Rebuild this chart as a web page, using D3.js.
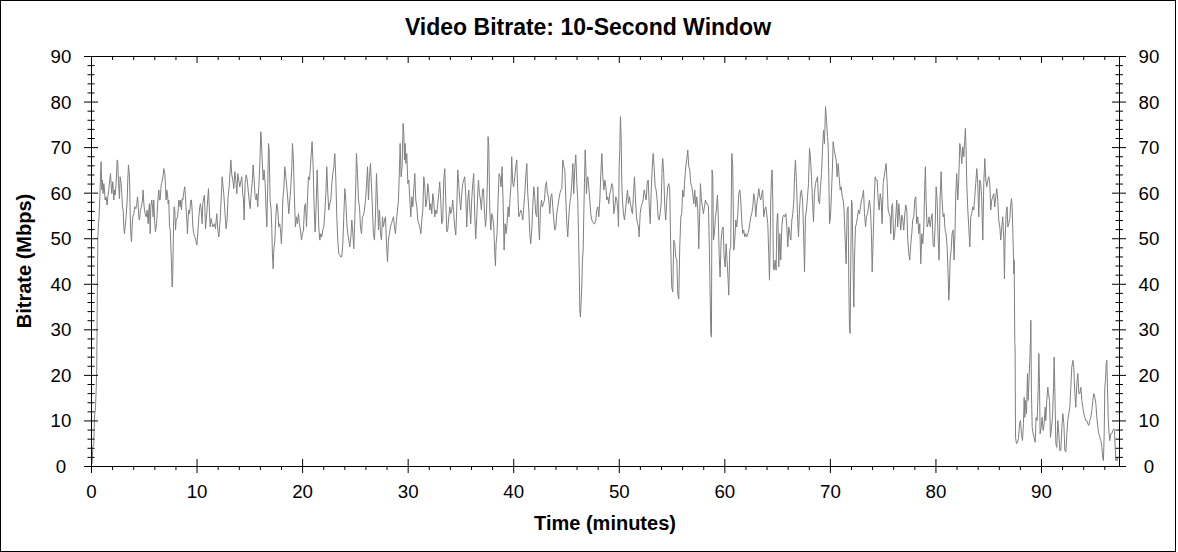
<!DOCTYPE html>
<html><head><meta charset="utf-8">
<script src="https://cdn.jsdelivr.net/npm/d3@7"></script>
<style>html,body{margin:0;padding:0;background:#fff;} svg{display:block;}</style>
</head><body>
<svg id="chart" width="1178" height="552"></svg>
<script>
const chartTitle = "Video Bitrate: 10-Second Window";
const xTitle = "Time (minutes)";
const yTitle = "Bitrate (Mbps)";
const xTickValues = [0,10,20,30,40,50,60,70,80,90];
const xTickLabels = ["0","10","20","30","40","50","60","70","80","90"];
const yTickValues = [0,10,20,30,40,50,60,70,80,90];
const yTickLabels = ["0","10","20","30","40","50","60","70","80","90"];
// [minutes, Mbps]
const samples = [
[0.06,0.6],[0.12,4.2],[0.22,5.0],[0.28,10.8],[0.38,13.0],[0.44,16.7],[0.50,21.8],[0.53,32.8],[0.60,50.0],[0.66,53.3],[0.72,54.8],[0.79,59.2],[0.85,63.6],[0.91,66.9],[0.98,60.7],[1.04,62.9],[1.10,59.9],[1.17,62.1],[1.23,60.7],[1.29,58.5],[1.39,59.2],[1.48,57.4],[1.55,59.2],[1.64,60.7],[1.73,62.9],[1.80,64.3],[1.86,62.1],[1.92,59.9],[2.02,62.5],[2.11,58.5],[2.18,60.7],[2.24,59.6],[2.33,62.1],[2.43,67.3],[2.49,66.9],[2.56,62.1],[2.65,58.8],[2.71,63.6],[2.81,62.1],[2.87,59.9],[2.93,57.0],[3.00,56.3],[3.06,52.6],[3.12,51.1],[3.19,52.6],[3.28,54.8],[3.38,58.5],[3.44,62.9],[3.50,66.2],[3.60,63.6],[3.66,56.3],[3.72,51.1],[3.79,49.3],[3.85,52.6],[3.91,54.8],[4.01,55.5],[4.10,57.0],[4.20,56.6],[4.29,57.7],[4.36,59.2],[4.42,57.7],[4.48,54.8],[4.54,54.1],[4.64,56.3],[4.73,57.0],[4.83,58.5],[4.89,60.7],[4.96,57.7],[5.02,56.3],[5.08,55.5],[5.18,54.8],[5.27,56.3],[5.37,53.3],[5.43,56.3],[5.49,57.7],[5.56,51.1],[5.62,57.0],[5.71,58.5],[5.78,57.0],[5.84,54.8],[5.90,58.5],[5.97,54.1],[6.06,51.5],[6.16,53.3],[6.22,55.5],[6.31,59.2],[6.38,60.7],[6.44,58.5],[6.50,58.5],[6.57,61.0],[6.63,62.1],[6.72,62.9],[6.79,64.0],[6.85,65.4],[6.95,64.3],[7.01,61.4],[7.07,58.5],[7.13,60.7],[7.20,59.9],[7.26,57.7],[7.32,58.5],[7.39,52.6],[7.45,52.2],[7.51,48.9],[7.58,44.5],[7.64,39.4],[7.70,42.3],[7.77,52.6],[7.83,57.0],[7.89,56.3],[7.96,51.9],[8.02,54.1],[8.08,54.4],[8.15,54.8],[8.21,56.3],[8.27,58.5],[8.33,58.1],[8.40,57.0],[8.46,58.5],[8.52,56.3],[8.59,58.8],[8.65,58.5],[8.71,59.6],[8.78,60.7],[8.84,61.4],[8.90,59.2],[8.97,56.3],[9.03,54.1],[9.09,51.1],[9.16,54.8],[9.22,56.3],[9.28,55.5],[9.35,57.0],[9.41,58.5],[9.47,58.5],[9.53,56.3],[9.60,52.6],[9.69,51.1],[9.79,50.4],[9.88,49.7],[9.98,48.6],[10.07,51.1],[10.17,54.8],[10.26,57.0],[10.32,57.7],[10.39,56.3],[10.48,53.3],
[10.54,57.7],[10.70,59.6],[10.80,52.2],[10.92,55.5],[11.08,61.0],[11.24,52.6],[11.33,54.4],[11.49,52.6],[11.65,53.3],[11.74,52.2],[11.87,55.5],[11.97,51.9],[12.06,50.4],[12.19,54.1],[12.28,58.5],[12.38,63.6],[12.44,62.1],[12.53,59.9],[12.63,56.3],[12.75,52.2],[12.85,54.1],[12.94,59.2],[13.04,61.4],[13.13,64.7],[13.20,67.3],[13.29,64.0],[13.39,62.9],[13.48,61.0],[13.58,64.7],[13.67,62.9],[13.77,59.9],[13.86,64.3],[13.95,62.9],[14.05,61.4],[14.14,62.5],[14.24,63.6],[14.33,59.9],[14.40,58.5],[14.46,54.1],[14.55,62.1],[14.65,64.0],[14.74,63.2],[14.84,60.7],[14.93,58.5],[15.03,56.6],[15.12,59.9],[15.22,62.1],[15.31,66.2],[15.41,62.9],[15.50,59.2],[15.60,58.5],[15.66,59.9],[15.75,57.0],[15.85,61.4],[15.94,65.8],[16.04,73.5],[16.10,71.6],[16.17,67.3],[16.26,62.9],[16.35,65.1],[16.45,62.1],[16.54,56.3],[16.61,52.6],[16.70,62.1],[16.77,70.9],[16.83,69.5],[16.92,58.5],[17.02,56.3],[17.08,52.2],[17.14,46.7],[17.21,43.4],[17.27,47.5],[17.37,49.7],[17.46,54.8],[17.55,57.7],[17.65,56.3],[17.74,52.6],[17.84,53.3],[17.93,51.1],[17.99,48.9],[18.06,52.6],[18.12,58.5],[18.22,61.0],[18.31,65.8],[18.41,63.6],[18.50,61.4],[18.60,58.5],[18.69,55.5],[18.79,58.5],[18.88,61.4],[18.98,65.8],[19.04,70.9],[19.13,67.3],[19.23,58.5],[19.32,52.6],[19.42,54.8],[19.51,53.3],[19.61,55.5],[19.70,53.3],[19.80,51.9],[19.89,49.7],[19.99,51.1],[20.08,51.9],[20.18,57.0],[20.27,57.7],[20.37,52.6],[20.46,58.5],[20.55,63.6],[20.65,62.9],[20.74,65.8],[20.84,69.5],[20.90,71.3],[21.00,65.8],[21.09,57.0],[21.19,51.5],[21.28,57.0],[21.38,65.1],
[21.44,60.7],[21.53,52.6],[21.63,49.7],[21.72,51.1],[21.82,50.4],[21.91,51.9],[22.01,52.6],[22.10,55.5],[22.20,59.9],[22.29,65.8],[22.39,59.9],[22.48,56.3],[22.58,57.7],[22.67,58.5],[22.77,62.1],[22.86,64.3],[22.96,65.8],[23.05,68.7],[23.15,62.9],[23.24,54.8],[23.33,49.7],[23.43,46.7],[23.52,46.4],[23.62,46.0],[23.71,46.0],[23.81,48.9],[23.90,54.8],[24.00,61.0],[24.09,58.5],[24.19,53.3],[24.28,51.1],[24.38,49.7],[24.47,48.2],[24.57,50.4],[24.66,54.1],[24.76,51.1],[24.85,47.8],[24.95,54.8],[25.04,62.1],[25.10,68.7],[25.20,64.3],[25.29,58.5],[25.39,57.0],[25.48,52.6],[25.58,51.1],[25.67,54.8],[25.77,55.2],[25.86,56.3],[25.96,58.5],[26.05,61.4],[26.15,65.8],[26.24,58.5],[26.33,63.6],[26.43,66.5],[26.52,62.1],[26.62,56.3],[26.71,51.1],[26.81,49.7],[26.90,54.8],[27.00,64.3],[27.09,58.5],[27.19,51.9],[27.28,56.3],[27.38,51.1],[27.47,49.7],[27.57,54.8],[27.66,52.6],[27.76,54.1],[27.85,54.8],[27.95,48.9],[28.04,44.9],[28.13,49.7],[28.23,51.1],[28.32,52.6],[28.42,53.3],[28.51,54.1],[28.61,54.8],[28.70,52.6],[28.80,51.1],[28.89,54.1],[28.99,56.3],[29.08,58.5],[29.18,65.8],[29.24,70.9],[29.33,63.6],[29.43,65.8],[29.52,75.3],[29.59,73.1],[29.65,67.3],[29.71,70.9],[29.78,66.5],[29.87,68.7],[29.97,62.1],[30.06,62.9],[30.16,58.5],[30.25,54.8],[30.35,59.2],[30.44,57.0],[30.53,60.7],[30.63,64.3],[30.72,58.5],[30.82,57.0],[30.91,54.1],[31.01,53.3],[31.10,52.6],[31.20,51.1],[31.29,54.1],[31.39,56.3],[31.48,63.6],[31.58,61.4],[31.67,57.0],[31.77,58.5],[31.86,62.1],[31.96,59.9],[32.05,56.3],[32.15,57.7],[32.24,55.5],
[32.33,59.9],[32.42,58.5],[32.52,54.8],[32.61,56.3],[32.71,55.5],[32.80,57.7],[32.90,59.9],[32.99,62.5],[33.09,58.5],[33.18,53.3],[33.28,54.1],[33.37,62.9],[33.47,65.4],[33.56,58.5],[33.66,51.5],[33.75,51.9],[33.85,54.8],[33.94,57.0],[34.04,55.5],[34.13,56.3],[34.22,58.5],[34.32,55.5],[34.41,52.6],[34.51,50.8],[34.60,56.3],[34.70,65.1],[34.79,62.1],[34.89,58.5],[34.98,56.3],[35.08,59.9],[35.17,62.1],[35.27,62.9],[35.36,63.6],[35.46,59.2],[35.55,52.6],[35.65,58.5],[35.74,60.7],[35.84,56.3],[35.93,53.3],[36.02,58.5],[36.12,62.1],[36.21,64.3],[36.31,54.8],[36.40,50.0],[36.50,54.8],[36.59,59.9],[36.66,62.9],[36.75,59.9],[36.85,58.5],[36.94,56.3],[37.04,60.7],[37.13,61.0],[37.23,56.3],[37.32,52.6],[37.41,54.8],[37.51,62.9],[37.57,72.4],[37.64,70.2],[37.73,56.3],[37.83,51.9],[37.92,55.5],[38.01,54.8],[38.11,52.6],[38.20,46.7],[38.27,44.0],[38.33,48.9],[38.42,51.1],[38.52,58.5],[38.61,64.3],[38.71,63.6],[38.80,61.4],[38.90,65.8],[38.99,58.5],[39.09,47.5],[39.18,53.3],[39.28,51.1],[39.37,53.3],[39.47,57.0],[39.56,54.8],[39.66,59.2],[39.75,62.1],[39.81,68.0],[39.91,62.1],[40.00,61.4],[40.10,63.6],[40.19,65.8],[40.29,67.3],[40.38,60.7],[40.48,54.8],[40.57,55.5],[40.67,56.3],[40.76,55.5],[40.86,54.1],[40.95,57.0],[41.05,59.9],[41.14,63.6],[41.24,66.5],[41.33,59.9],[41.43,56.3],[41.52,51.1],[41.61,48.9],[41.71,51.9],[41.80,57.0],[41.90,61.4],[41.99,59.2],[42.09,55.5],[42.18,54.8],[42.28,61.4],[42.37,52.6],[42.44,49.7],[42.53,56.3],[42.63,58.5],[42.72,57.0],[42.81,57.7],[42.91,58.5],[43.00,61.4],[43.10,62.5],[43.19,59.9],
[43.23,59.9],[43.32,58.5],[43.42,55.5],[43.51,59.2],[43.61,59.9],[43.70,57.0],[43.80,54.1],[43.89,51.9],[43.99,52.6],[44.08,55.5],[44.18,57.0],[44.27,58.5],[44.37,59.9],[44.46,60.7],[44.56,61.0],[44.65,67.3],[44.75,65.8],[44.84,65.1],[44.94,58.5],[45.03,53.3],[45.12,50.4],[45.22,54.8],[45.31,57.7],[45.41,59.2],[45.50,62.1],[45.60,66.5],[45.69,59.9],[45.79,65.8],[45.88,68.4],[45.98,62.1],[46.07,58.5],[46.14,51.1],[46.20,43.8],[46.26,34.3],[46.32,32.8],[46.39,36.5],[46.45,39.4],[46.51,45.3],[46.58,47.5],[46.64,55.5],[46.70,62.1],[46.77,69.5],[46.83,65.8],[46.89,59.9],[46.96,62.9],[47.02,63.6],[47.11,61.4],[47.21,58.5],[47.30,55.5],[47.40,54.1],[47.49,53.7],[47.59,53.3],[47.68,53.3],[47.78,54.1],[47.87,56.3],[47.97,57.0],[48.06,54.8],[48.16,58.5],[48.25,64.3],[48.35,68.7],[48.44,63.6],[48.54,60.7],[48.63,62.9],[48.73,61.4],[48.82,58.5],[48.91,59.2],[49.01,57.7],[49.10,59.9],[49.20,60.7],[49.29,62.1],[49.39,61.4],[49.48,55.5],[49.58,57.0],[49.67,59.2],[49.77,58.5],[49.86,56.3],[49.93,52.6],[49.99,65.8],[50.05,69.5],[50.11,76.8],[50.18,71.6],[50.24,62.1],[50.30,58.5],[50.40,55.5],[50.49,54.1],[50.59,56.3],[50.68,58.5],[50.78,60.7],[50.87,57.7],[50.97,59.2],[51.06,57.7],[51.16,56.3],[51.25,55.5],[51.35,59.9],[51.44,63.6],[51.54,58.5],[51.63,54.8],[51.73,53.3],[51.82,52.6],[51.88,50.4],[51.98,55.5],[52.07,57.0],[52.17,57.7],[52.26,58.5],[52.36,60.7],[52.45,59.6],[52.55,58.5],[52.64,62.1],[52.74,62.9],[52.83,57.7],[52.93,53.3],[53.02,59.9],[53.11,65.1],[53.21,68.7],[53.30,65.8],[53.40,61.4],[53.49,60.7],[53.59,58.5],[53.68,54.8],[53.78,54.1],[53.87,55.5],[53.97,57.7],[54.06,65.8],
[54.12,67.6],[54.21,64.3],[54.31,57.0],[54.40,54.1],[54.50,58.5],[54.59,61.4],[54.69,62.1],[54.78,60.7],[54.88,47.5],[54.97,39.4],[55.07,38.3],[55.16,49.7],[55.26,48.9],[55.35,46.0],[55.45,45.3],[55.54,37.9],[55.64,36.8],[55.73,48.2],[55.83,54.8],[55.92,55.5],[56.01,60.7],[56.11,59.2],[56.20,62.9],[56.30,65.8],[56.39,67.3],[56.49,69.5],[56.58,65.8],[56.68,65.1],[56.77,62.1],[56.87,61.4],[56.96,59.9],[57.06,57.7],[57.15,60.7],[57.25,57.0],[57.34,59.2],[57.44,56.3],[57.53,47.8],[57.63,56.3],[57.69,62.1],[57.78,58.5],[57.88,57.0],[57.97,55.5],[58.07,57.0],[58.16,58.5],[58.26,57.7],[58.35,57.7],[58.45,57.0],[58.54,47.5],[58.60,38.7],[58.67,29.2],[58.73,28.4],[58.79,65.1],[58.86,63.6],[58.92,49.7],[59.01,51.1],[59.11,54.8],[59.20,56.3],[59.30,59.6],[59.36,56.3],[59.46,46.7],[59.55,41.6],[59.65,49.7],[59.74,51.9],[59.84,52.6],[59.93,46.0],[60.03,43.8],[60.12,48.9],[60.21,45.3],[60.31,40.9],[60.37,37.6],[60.47,47.5],[60.56,48.2],[60.66,68.7],[60.75,65.8],[60.85,47.5],[60.94,49.7],[61.04,54.1],[61.13,52.6],[61.23,55.5],[61.32,59.9],[61.42,60.7],[61.51,58.5],[61.60,54.1],[61.70,51.1],[61.79,51.9],[61.89,50.4],[61.98,51.1],[62.08,50.4],[62.17,51.1],[62.27,51.9],[62.36,53.3],[62.46,54.8],[62.55,55.5],[62.65,57.0],[62.74,59.9],[62.84,58.5],[62.93,54.8],[63.03,57.7],[63.12,59.2],[63.22,61.0],[63.31,59.2],[63.40,58.5],[63.50,59.9],[63.59,60.7],[63.69,54.8],[63.78,56.3],[63.88,57.0],[63.97,55.5],[64.07,53.3],[64.16,46.7],[64.23,40.9],[64.29,47.5],[64.35,58.5],[64.42,63.6],[64.48,65.1],[64.54,58.5],[64.60,43.8],[64.67,43.1],[64.76,45.3],[64.86,43.1],[64.92,52.6],[64.98,55.5],
[65.02,55.5],[65.11,43.8],[65.21,51.1],[65.30,45.3],[65.40,52.6],[65.49,54.8],[65.59,55.2],[65.68,54.8],[65.78,55.5],[65.87,52.6],[65.97,48.2],[66.06,52.6],[66.16,51.1],[66.25,49.7],[66.35,54.1],[66.44,55.5],[66.54,58.5],[66.60,63.6],[66.69,67.3],[66.79,62.1],[66.88,55.5],[66.98,50.4],[67.07,56.3],[67.17,59.9],[67.26,60.7],[67.36,58.5],[67.45,52.6],[67.55,42.7],[67.64,54.8],[67.74,56.3],[67.83,59.2],[67.93,62.1],[68.02,69.8],[68.11,68.0],[68.21,63.6],[68.30,58.5],[68.40,53.7],[68.49,59.9],[68.59,62.1],[68.68,62.9],[68.78,63.6],[68.87,58.5],[68.97,57.7],[69.06,61.4],[69.16,64.3],[69.25,69.5],[69.35,73.8],[69.44,70.9],[69.54,79.0],[69.63,76.0],[69.73,72.4],[69.79,70.2],[69.85,63.6],[69.92,53.3],[70.01,54.8],[70.10,59.9],[70.20,65.8],[70.26,71.3],[70.36,69.5],[70.45,68.4],[70.55,67.3],[70.64,63.6],[70.74,66.5],[70.83,63.6],[70.93,60.7],[71.02,61.4],[71.12,59.2],[71.21,58.5],[71.30,56.3],[71.40,49.7],[71.49,44.5],[71.59,56.3],[71.68,57.0],[71.75,39.4],[71.81,30.6],[71.87,29.2],[71.94,47.5],[72.00,58.5],[72.06,57.7],[72.16,42.3],[72.22,35.0],[72.28,45.3],[72.38,52.6],[72.47,53.3],[72.57,54.8],[72.66,56.3],[72.76,55.5],[72.85,57.0],[72.95,58.5],[73.04,59.2],[73.14,60.7],[73.23,55.5],[73.33,52.6],[73.42,54.8],[73.52,55.5],[73.61,57.0],[73.70,58.5],[73.80,56.3],[73.89,51.1],[73.96,42.7],[74.05,49.7],[74.15,58.5],[74.24,63.6],[74.34,62.9],[74.43,62.9],[74.53,58.5],[74.62,56.3],[74.72,59.9],[74.81,58.5],[74.90,53.3],[75.00,62.1],[75.09,63.6],[75.19,65.1],[75.28,66.5],[75.38,62.1],[75.47,56.3],[75.57,55.5],[75.66,54.8],[75.72,51.1],[75.82,57.0],[75.88,57.7],
[75.91,56.3],[76.00,49.7],[76.10,51.1],[76.19,54.8],[76.29,58.5],[76.38,52.6],[76.48,57.7],[76.57,54.8],[76.67,51.9],[76.76,55.2],[76.86,54.1],[76.95,51.9],[77.05,55.5],[77.14,57.4],[77.24,56.3],[77.33,49.7],[77.43,46.7],[77.52,45.3],[77.62,48.9],[77.71,51.1],[77.80,54.1],[77.90,54.8],[77.99,58.5],[78.09,59.2],[78.18,53.3],[78.28,54.8],[78.37,51.1],[78.47,53.3],[78.56,44.5],[78.66,51.1],[78.75,48.9],[78.85,52.6],[78.94,61.4],[79.00,65.8],[79.07,58.5],[79.16,52.6],[79.26,53.3],[79.35,54.8],[79.45,52.6],[79.54,54.1],[79.64,55.5],[79.73,48.9],[79.83,48.2],[79.92,52.6],[80.02,61.4],[80.11,58.5],[80.20,50.4],[80.30,45.3],[80.39,58.5],[80.49,64.7],[80.58,58.5],[80.68,54.8],[80.77,55.5],[80.87,51.9],[80.96,51.1],[81.06,48.2],[81.15,42.3],[81.22,36.5],[81.28,39.4],[81.34,45.3],[81.44,47.5],[81.53,51.1],[81.63,51.9],[81.72,45.3],[81.82,52.6],[81.88,59.9],[81.97,64.3],[82.07,58.5],[82.16,62.9],[82.26,70.9],[82.35,69.5],[82.45,66.5],[82.54,70.2],[82.64,68.0],[82.73,71.6],[82.79,74.2],[82.86,69.5],[82.92,62.1],[83.02,56.3],[83.11,52.6],[83.21,48.2],[83.30,54.8],[83.39,55.5],[83.49,57.0],[83.58,56.3],[83.68,59.2],[83.77,62.1],[83.87,65.4],[83.96,62.1],[84.06,54.8],[84.15,62.9],[84.25,62.1],[84.34,58.5],[84.44,49.7],[84.53,62.1],[84.63,67.6],[84.72,62.9],[84.82,61.4],[84.91,62.9],[85.01,63.6],[85.10,62.1],[85.19,56.3],[85.29,58.5],[85.38,59.2],[85.48,59.9],[85.57,57.0],[85.67,59.2],[85.76,61.0],[85.86,58.5],[85.95,54.1],[86.05,52.6],[86.14,49.7],[86.24,52.6],[86.33,54.8],[86.43,49.7],[86.49,41.2],[86.55,49.7],[86.65,55.5],[86.74,57.0],
[86.81,52.6],[86.90,53.3],[87.00,54.4],[87.09,57.7],[87.16,58.8],[87.22,57.0],[87.28,51.9],[87.35,46.0],[87.38,42.3],[87.41,45.3],[87.44,36.5],[87.47,27.0],[87.50,26.2],[87.54,6.4],[87.63,5.0],[87.73,5.3],[87.82,6.1],[87.92,9.4],[88.01,10.1],[88.10,7.2],[88.20,5.7],[88.29,9.4],[88.36,15.2],[88.42,10.8],[88.48,14.5],[88.58,11.6],[88.67,20.4],[88.74,14.5],[88.80,18.2],[88.89,23.3],[88.96,27.7],[88.99,32.1],[89.05,16.0],[89.12,8.6],[89.21,7.2],[89.30,6.4],[89.40,5.3],[89.49,10.8],[89.59,10.1],[89.68,16.7],[89.75,24.8],[89.81,18.2],[89.87,7.2],[89.97,8.6],[90.06,10.8],[90.16,7.9],[90.25,9.4],[90.35,13.0],[90.41,10.1],[90.50,14.5],[90.60,17.4],[90.66,16.0],[90.76,14.5],[90.85,6.4],[90.95,8.6],[91.04,10.8],[91.14,17.4],[91.20,24.0],[91.26,17.4],[91.36,5.0],[91.45,4.2],[91.55,10.1],[91.64,7.2],[91.74,3.5],[91.83,3.5],[91.93,8.6],[92.02,11.6],[92.12,9.4],[92.21,3.5],[92.31,3.2],[92.40,7.2],[92.49,10.1],[92.59,11.6],[92.68,13.0],[92.78,17.4],[92.87,21.8],[92.97,23.3],[93.06,21.8],[93.16,16.0],[93.25,13.0],[93.35,18.2],[93.44,20.4],[93.54,16.0],[93.63,16.0],[93.73,17.4],[93.82,14.5],[93.92,13.0],[94.01,11.6],[94.10,10.8],[94.20,10.1],[94.29,10.1],[94.39,9.4],[94.48,9.0],[94.58,10.1],[94.67,10.8],[94.77,12.3],[94.86,14.5],[94.96,16.0],[95.05,15.2],[95.15,13.8],[95.24,10.8],[95.34,8.6],[95.43,7.2],[95.53,6.4],[95.62,5.7],[95.72,4.2],[95.81,1.7],[95.87,1.3],[95.94,7.2],[96.00,17.4],[96.06,18.9],[96.13,22.6],[96.19,23.3],[96.25,17.4],[96.32,10.8],[96.38,7.9],[96.47,5.7],[96.57,7.2],[96.66,7.2],[96.76,7.9],[96.85,8.3],[96.91,7.9],[96.98,4.2],[97.04,1.3],[97.10,1.7],[97.17,1.3],[97.23,2.1]
];

const fontFam = "Arial, 'Liberation Sans', Helvetica, sans-serif";
const svg = d3.select("#chart").attr("font-family", fontFam);

svg.append("rect").attr("x",0.5).attr("y",0.5).attr("width",1175).attr("height",551)
  .attr("fill","#fff").attr("stroke","#000").attr("stroke-width",1);

const x = d3.scaleLinear().domain([0, 97.39]).range([91, 1119]);
const y = d3.scaleLinear().domain([0, 90]).range([466, 56]);

const xMinor = d3.range(2, 97, 2).filter(d => d % 10 !== 0);
const yMinor = d3.range(2, 90, 2).filter(d => d % 10 !== 0);

// data line
const line = d3.line().x(d => x(d[0]) + 0.5).y(d => y(d[1]) + 0.5);
svg.append("path").datum(samples).attr("d", line)
  .attr("fill","none").attr("stroke","#808080").attr("stroke-width",1)
  .attr("stroke-linejoin","miter");

function blackify(g){
  g.selectAll("path.domain").attr("stroke","#000");
  g.selectAll(".tick line").attr("stroke","#000");
  g.attr("font-family", fontFam);
}

// left axis
const leftMinor = svg.append("g").attr("transform","translate(91,0)")
  .call(d3.axisLeft(y).tickValues(yMinor).tickFormat("").tickSizeOuter(0).tickSizeInner(3.5).offset(0.5));
leftMinor.select(".domain").remove();
leftMinor.selectAll(".tick line").attr("x1",3.5);
blackify(leftMinor);
const left = svg.append("g").attr("transform","translate(91,0)")
  .call(d3.axisLeft(y).tickValues(yTickValues).tickFormat((d,i) => yTickLabels[i]).tickSizeOuter(0).tickSizeInner(7).offset(0.5));
left.selectAll(".tick line").attr("x1",7);
left.selectAll(".tick text").attr("x",-30).attr("dy",null).attr("y",6.5).attr("text-anchor","middle")
  .attr("font-size",18.7).attr("fill","#000");
blackify(left);

// right axis
const rightMinor = svg.append("g").attr("transform","translate(1119,0)")
  .call(d3.axisRight(y).tickValues(yMinor).tickFormat("").tickSizeOuter(0).tickSizeInner(4).offset(0.5));
rightMinor.select(".domain").remove();
rightMinor.selectAll(".tick line").attr("x1",-3.5);
blackify(rightMinor);
const right = svg.append("g").attr("transform","translate(1119,0)")
  .call(d3.axisRight(y).tickValues(yTickValues).tickFormat((d,i) => yTickLabels[i]).tickSizeOuter(0).tickSizeInner(7).offset(0.5));
right.selectAll(".tick line").attr("x1",-7);
right.selectAll(".tick text").attr("x",30).attr("dy",null).attr("y",6.5).attr("text-anchor","middle")
  .attr("font-size",18.7).attr("fill","#000");
blackify(right);

// top axis
const topMinor = svg.append("g").attr("transform","translate(0,56)")
  .call(d3.axisBottom(x).tickValues(xMinor).tickFormat("").tickSizeOuter(0).tickSizeInner(4).offset(0.5));
topMinor.select(".domain").remove();
blackify(topMinor);
const topAx = svg.append("g").attr("transform","translate(0,56)")
  .call(d3.axisBottom(x).tickValues(xTickValues).tickFormat("").tickSizeOuter(0).tickSizeInner(7).offset(0.5));
blackify(topAx);

// bottom axis
const bottomMinor = svg.append("g").attr("transform","translate(0,466)")
  .call(d3.axisBottom(x).tickValues(xMinor).tickFormat("").tickSizeOuter(0).tickSizeInner(4).offset(0.5));
bottomMinor.select(".domain").remove();
blackify(bottomMinor);
const bottom = svg.append("g").attr("transform","translate(0,466)")
  .call(d3.axisBottom(x).tickValues(xTickValues).tickFormat((d,i) => xTickLabels[i]).tickSizeOuter(0).tickSizeInner(7).offset(0.5));
bottom.selectAll(".tick line").attr("y1",-7);
bottom.selectAll(".tick text").attr("dy",null).attr("y",32).attr("text-anchor","middle")
  .attr("font-size",18.7).attr("fill","#000");
blackify(bottom);

// titles
svg.append("text").attr("x",588).attr("y",35).attr("text-anchor","middle")
  .attr("font-weight","bold").attr("font-size",23).attr("fill","#000").text(chartTitle);
svg.append("text").attr("x",605).attr("y",530).attr("text-anchor","middle")
  .attr("font-weight","bold").attr("font-size",20).attr("fill","#000").text(xTitle);
svg.append("text").attr("transform","translate(31,261) rotate(-90)").attr("text-anchor","middle")
  .attr("font-weight","bold").attr("font-size",20).attr("fill","#000").text(yTitle);
</script>
</body></html>
